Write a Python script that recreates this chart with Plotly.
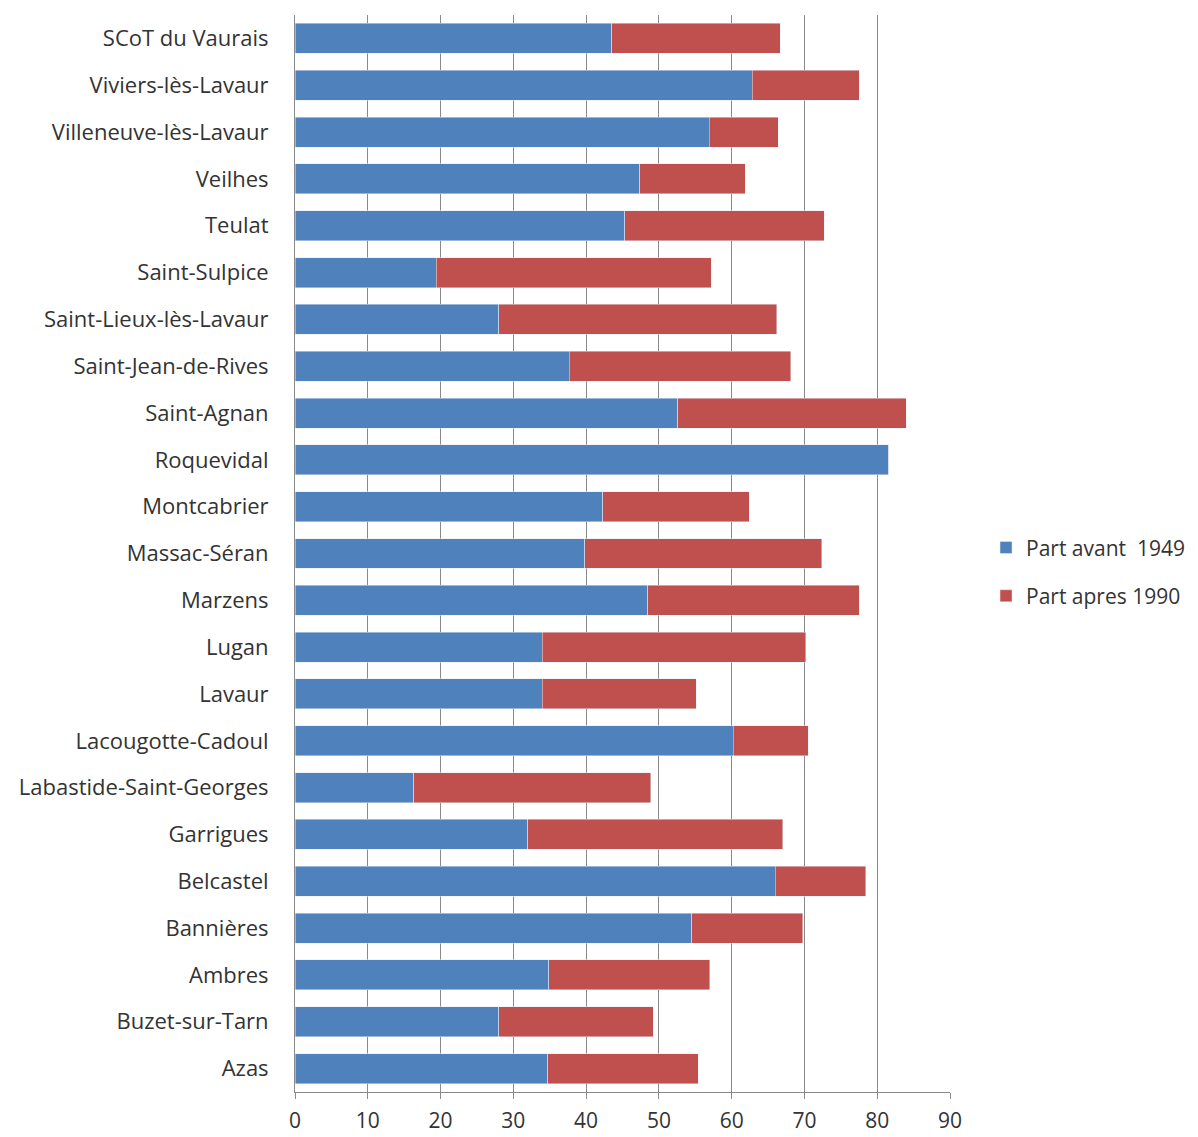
import plotly.graph_objects as go

communes = ['SCoT du Vaurais', 'Viviers-lès-Lavaur', 'Villeneuve-lès-Lavaur', 'Veilhes',
            'Teulat', 'Saint-Sulpice', 'Saint-Lieux-lès-Lavaur', 'Saint-Jean-de-Rives',
            'Saint-Agnan', 'Roquevidal', 'Montcabrier', 'Massac-Séran', 'Marzens',
            'Lugan', 'Lavaur', 'Lacougotte-Cadoul', 'Labastide-Saint-Georges',
            'Garrigues', 'Belcastel', 'Bannières', 'Ambres', 'Buzet-sur-Tarn', 'Azas']

# Part avant 1949
avant_1949 = [43.5, 62.8, 56.9, 47.4, 45.3, 19.4, 28.0, 37.7, 52.6, 81.6, 42.3, 39.8,
              48.5, 34.0, 34.0, 60.2, 16.3, 32.0, 66.0, 54.5, 34.9, 28.0, 34.7]
# Part apres 1990
apres_1990 = [23.2, 14.7, 9.5, 14.5, 27.4, 37.8, 38.2, 30.4, 31.4, 0.0, 20.1, 32.6,
              29.0, 36.2, 21.1, 10.3, 32.6, 35.0, 12.4, 15.3, 22.1, 21.2, 20.7]

x_ticks = [0, 10, 20, 30, 40, 50, 60, 70, 80, 90]

fig = go.Figure()

fig.add_trace(go.Bar(y=communes, x=avant_1949, orientation='h',
                     name='Part avant  1949', marker_color='#4F81BD',
                     legendgroup='a'))
fig.add_trace(go.Bar(y=communes, x=apres_1990, orientation='h',
                     name='Part apres 1990', marker_color='#C0504D',
                     legendgroup='b'))

# la page a une marge de 8px : on réduit la figure d'autant
fig.update_layout(
    width=1190, height=1129,
    barmode='stack', bargap=0.36,
    plot_bgcolor='white', paper_bgcolor='white',
    margin=dict(l=287, r=248, t=7, b=45, autoexpand=False),
    font=dict(family='Open Sans, sans-serif', size=22, color='#333'),
    legend=dict(x=1.055, y=0.483, xanchor='left', yanchor='middle',
                traceorder='grouped', tracegroupgap=18,
                font=dict(size=21), itemwidth=30),
    showlegend=True,
)

fig.update_xaxes(range=[0, 90], tickvals=x_ticks, showgrid=True,
                 gridcolor='#8a8a8a', gridwidth=1,
                 showline=True, linecolor='#8a8a8a', linewidth=1,
                 ticks='outside', ticklen=6, tickcolor='#8a8a8a',
                 ticklabelstandoff=4, zeroline=False,
                 tickfont=dict(size=21))
fig.update_yaxes(autorange='reversed', showline=True, linecolor='#8a8a8a',
                 linewidth=1, ticks='', ticklabelstandoff=21,
                 tickfont=dict(size=22))

fig.write_html("out.html")
